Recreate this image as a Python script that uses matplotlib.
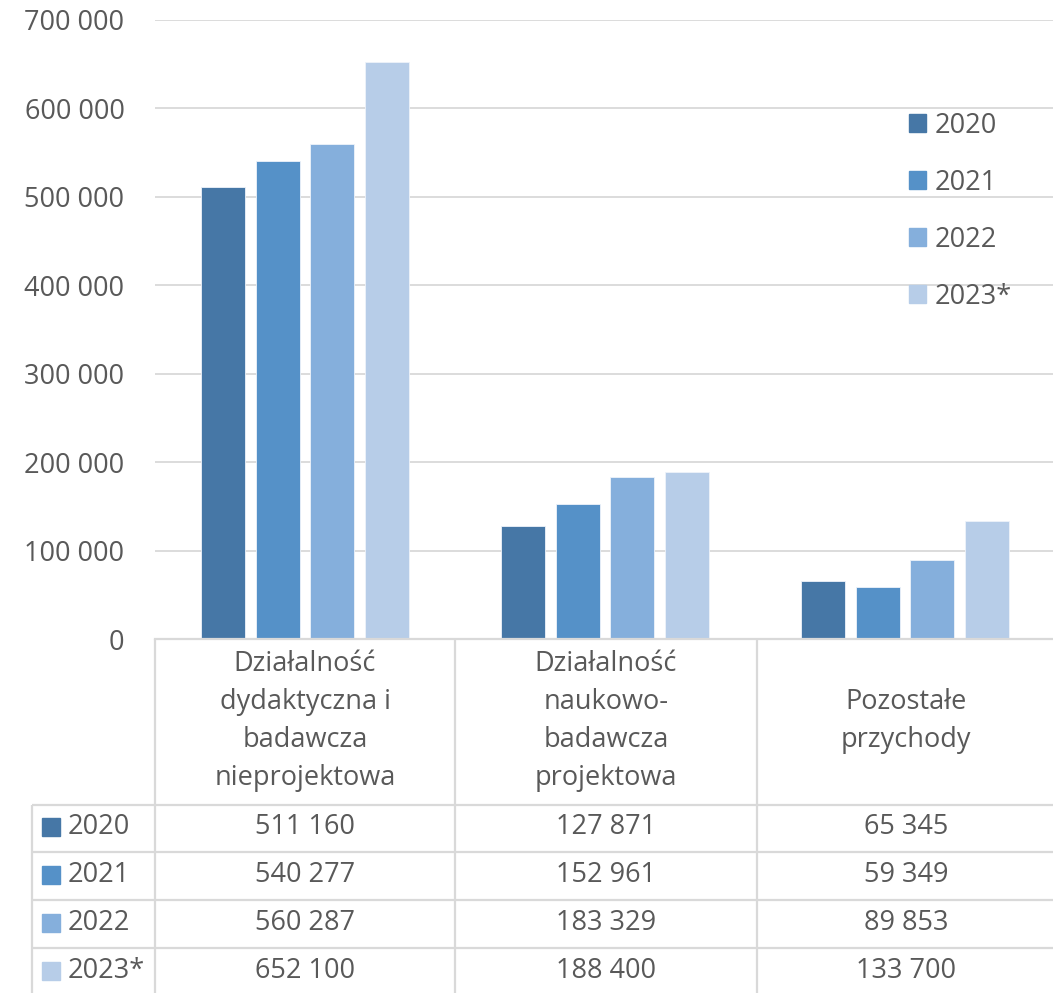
import matplotlib
matplotlib.use("Agg")
import matplotlib.pyplot as plt
from matplotlib.patches import Rectangle

categories = [
    "Działalność\ndydaktyczna i\nbadawcza\nnieprojektowa",
    "Działalność\nnaukowo-\nbadawcza\nprojektowa",
    "Pozostałe\nprzychody",
]
years = ["2020", "2021", "2022", "2023*"]
values_2020 = [511160, 127871, 65345]
values_2021 = [540277, 152961, 59349]
values_2022 = [560287, 183329, 89853]
values_2023 = [652100, 188400, 133700]
series = [values_2020, values_2021, values_2022, values_2023]
colors = ["#4677A6", "#5591C8", "#85AFDC", "#B7CDE8"]
y_ticks = [0, 100000, 200000, 300000, 400000, 500000, 600000, 700000]

TEXT = "#595959"
GRID = "#D9D9D9"
FONT = "Open Sans"
FS = 19.5

W, H = 1053, 993
fig = plt.figure(figsize=(W / 100, H / 100), dpi=100)
plt.rcParams["font.family"] = [FONT, "DejaVu Sans"]


def fx(px):
    return px / W


def fy(py):
    return 1 - py / H


# plot area: x 155..1055 px, y 20..639 px
ax = fig.add_axes([fx(155), fy(639), fx(1055) - fx(155), fy(20) - fy(639)])
ax.set_xlim(-0.5, len(categories) - 0.5)
ax.set_ylim(0, 700000)

step = 0.1825
width = 0.147
for i, (vals, col) in enumerate(zip(series, colors)):
    xs = [c + (i - 1.5) * step for c in range(len(categories))]
    ax.bar(xs, vals, width=width, color=col, edgecolor="#EEF3FA",
           linewidth=0.6, zorder=3, label=years[i])

ax.set_yticks(y_ticks)
ax.set_yticklabels([f"{v:,}".replace(",", " ") for v in y_ticks],
                   fontsize=FS, color=TEXT)
ax.tick_params(axis="y", length=0, pad=22)
ax.set_xticks([])
ax.grid(axis="y", color=GRID, linewidth=1.3, zorder=0)
for s in ["top", "right", "left"]:
    ax.spines[s].set_visible(False)
ax.spines["bottom"].set_color(GRID)
ax.spines["bottom"].set_linewidth(1.6)
ax.spines["bottom"].set_zorder(4)

# legend at the right of the plot area
handles = [Rectangle((0, 0), 1, 1, color=c) for c in colors]
leg = fig.legend(handles, years, loc="upper left",
                 bbox_to_anchor=(fx(898), fy(101)), frameon=False,
                 fontsize=FS, labelcolor=TEXT, handlelength=0.65,
                 handleheight=0.65, handletextpad=0.3, labelspacing=1.07,
                 borderaxespad=0)

# data table below the plot
tab = fig.add_axes([0, 0, 1, 1], facecolor="none")
tab.set_xlim(0, W)
tab.set_ylim(H, 0)
tab.axis("off")

col_edges = [155, 455, 757, 1055]
row_edges = [805, 852, 900, 948, 996]
lw = 1.6
for x in col_edges[:-1]:
    tab.plot([x, x], [639, H], color=GRID, lw=lw, solid_capstyle="butt")
tab.plot([32, 32], [805, H], color=GRID, lw=lw, solid_capstyle="butt")
for y in row_edges[:-1]:
    tab.plot([32, W], [y, y], color=GRID, lw=lw, solid_capstyle="butt")

for c, name in enumerate(categories):
    cx = (col_edges[c] + col_edges[c + 1]) / 2
    tab.text(cx, 721, name, ha="center", va="center", fontsize=FS,
             color=TEXT, linespacing=1.47)

for r, (yr, vals, col) in enumerate(zip(years, series, colors)):
    cy = (row_edges[r] + row_edges[r + 1]) / 2 - 1.5
    tab.add_patch(Rectangle((42, cy - 9), 18, 18, color=col))
    tab.text(68, cy, yr, ha="left", va="center", fontsize=FS, color=TEXT)
    for c, v in enumerate(vals):
        cx = (col_edges[c] + col_edges[c + 1]) / 2
        tab.text(cx, cy, f"{v:,}".replace(",", " "), ha="center",
                 va="center", fontsize=FS, color=TEXT)

fig.savefig("out.png", dpi=100)
